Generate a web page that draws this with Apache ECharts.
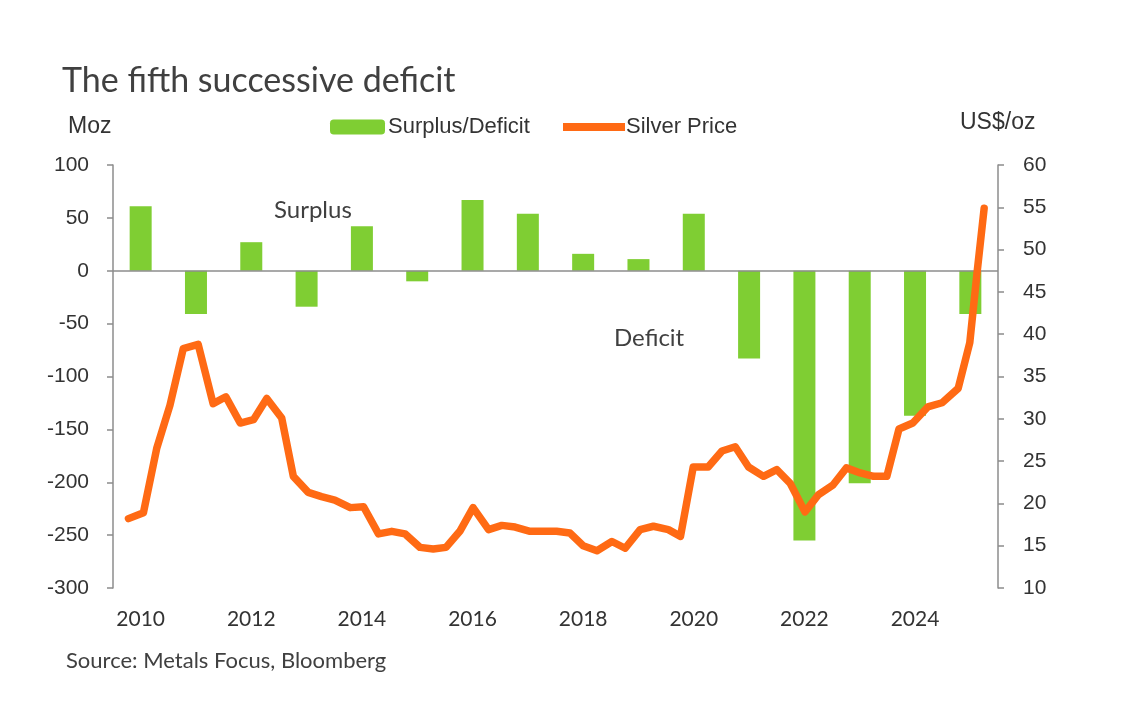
<!DOCTYPE html>
<html>
<head>
<meta charset="utf-8">
<title>The fifth successive deficit</title>
<script src="https://cdn.jsdelivr.net/npm/echarts@6/dist/echarts.min.js"></script>
<style>
  html, body { margin: 0; padding: 0; background: #fff; }
  #chart { width: 1146px; height: 710px; }
</style>
</head>
<body>
<div id="chart"></div>
<script>
// 年度供需缺口（百万盎司）
const years = ['2010', '2011', '2012', '2013', '2014', '2015', '2016', '2017',
               '2018', '2019', '2020', '2021', '2022', '2023', '2024', '2025'];
const balance = [61, -41, 27, -34, 42, -10, 67, 54, 16, 11, 54, -83, -255, -201, -137, -41];

// 银价（美元/盎司），按季度读取
const priceDates = [2009.78, 2010.05, 2010.29, 2010.53, 2010.77, 2011.04, 2011.31, 2011.54,
                    2011.80, 2012.04, 2012.28, 2012.55, 2012.76, 2013.03, 2013.27, 2013.51,
                    2013.79, 2014.03, 2014.30, 2014.54, 2014.78, 2015.05, 2015.29, 2015.52,
                    2015.77, 2016.01, 2016.29, 2016.53, 2016.77, 2017.04, 2017.28, 2017.52,
                    2017.76, 2018.00, 2018.25, 2018.52, 2018.76, 2019.03, 2019.27, 2019.54,
                    2019.76, 2019.99, 2020.26, 2020.51, 2020.75, 2020.99, 2021.26, 2021.50,
                    2021.74, 2022.01, 2022.25, 2022.52, 2022.76, 2023.01, 2023.25, 2023.49,
                    2023.71, 2023.96, 2024.23, 2024.49, 2024.78, 2024.99, 2025.12, 2025.25];
const priceValues = [18.2, 18.9, 26.5, 31.6, 38.3, 38.8, 31.8, 32.6,
                     29.5, 29.9, 32.4, 30.1, 23.2, 21.3, 20.8, 20.4,
                     19.5, 19.6, 16.4, 16.7, 16.4, 14.8, 14.6, 14.8,
                     16.7, 19.5, 16.9, 17.4, 17.2, 16.7, 16.7, 16.7,
                     16.5, 15.0, 14.4, 15.5, 14.7, 16.9, 17.3, 16.9,
                     16.1, 24.3, 24.3, 26.2, 26.7, 24.3, 23.2, 24.0,
                     22.4, 19.0, 21.0, 22.2, 24.2, 23.6, 23.2, 23.2,
                     28.8, 29.5, 31.4, 31.9, 33.6, 39.0, 47.2, 54.9];

const leftTicks = { min: -300, max: 100, interval: 50 };
const rightTicks = { min: 10, max: 60, interval: 5 };

const myChart = echarts.init(document.getElementById('chart'));

const labelFont = 'Liberation Sans, Arial, sans-serif';
const softFont = 'Lato, Open Sans, sans-serif';
const green = '#7fce33';
const orange = '#ff6a14';
const axisGrey = '#8c8c8c';

const legendText = { fontFamily: labelFont, fontSize: 22, color: '#333' };

const option = {
    animation: false,
    backgroundColor: '#fff',
    grid: { left: 113, right: 148, top: 165, bottom: 122 },
    legend: [
        {
            data: ['Surplus/Deficit'],
            left: 325,
            top: 111,
            itemWidth: 55,
            itemHeight: 15,
            textStyle: Object.assign({ padding: [0, 0, 0, -2] }, legendText)
        },
        {
            data: [{ name: 'Silver Price', icon: 'rect', itemStyle: { color: orange } }],
            left: 558,
            top: 111,
            itemWidth: 62,
            itemHeight: 8,
            textStyle: Object.assign({ padding: [0, 0, 0, -4] }, legendText)
        }
    ],
    graphic: [
        { type: 'text', left: 62, top: 64, style: { text: 'The fifth successive deficit', font: '34px ' + softFont, fill: '#404040' } },
        { type: 'text', left: 68, top: 115, style: { text: 'Moz', font: '23px ' + labelFont, fill: '#333' } },
        { type: 'text', left: 960, top: 111, style: { text: 'US$/oz', font: '23px ' + labelFont, fill: '#333' } },
        { type: 'text', left: 274, top: 198, style: { text: 'Surplus', font: '24px ' + softFont, fill: '#404040' } },
        { type: 'text', left: 614, top: 326, style: { text: 'Deficit', font: '24px ' + softFont, fill: '#404040' } },
        { type: 'text', left: 66, top: 650, style: { text: 'Source: Metals Focus, Bloomberg', font: '22px ' + softFont, fill: '#404040' } }
    ],
    xAxis: [
        {
            type: 'category',
            data: years,
            boundaryGap: true,
            axisLine: { show: false },
            axisTick: { show: false },
            axisLabel: { interval: 1, margin: 21, fontFamily: softFont, fontSize: 21, color: '#333' }
        },
        {
            type: 'value',
            min: 2009.5,
            max: 2025.5,
            show: false
        }
    ],
    yAxis: [
        {
            type: 'value',
            min: leftTicks.min,
            max: leftTicks.max,
            interval: leftTicks.interval,
            splitLine: { show: false },
            axisLine: { show: true, lineStyle: { color: axisGrey, width: 1.5 } },
            axisTick: { show: true, length: 6, lineStyle: { color: axisGrey, width: 1.5 } },
            axisLabel: { margin: 24, fontFamily: labelFont, fontSize: 21, color: '#333' }
        },
        {
            type: 'value',
            min: rightTicks.min,
            max: rightTicks.max,
            interval: rightTicks.interval,
            position: 'right',
            splitLine: { show: false },
            axisLine: { show: true, lineStyle: { color: axisGrey, width: 1.5 } },
            axisTick: { show: true, length: 6, lineStyle: { color: axisGrey, width: 1.5 } },
            axisLabel: { margin: 25, fontFamily: labelFont, fontSize: 21, color: '#333' }
        }
    ],
    series: [
        {
            name: 'Surplus/Deficit',
            type: 'bar',
            xAxisIndex: 0,
            yAxisIndex: 0,
            data: balance,
            barWidth: 22,
            itemStyle: { color: green },
            markLine: {
                silent: true,
                symbol: 'none',
                label: { show: false },
                lineStyle: { color: axisGrey, width: 1.5, type: 'solid' },
                data: [{ yAxis: 0 }]
            },
            z: 2
        },
        {
            name: 'Silver Price',
            type: 'line',
            xAxisIndex: 1,
            yAxisIndex: 1,
            data: priceDates.map((d, i) => [d, priceValues[i]]),
            symbol: 'none',
            lineStyle: { color: orange, width: 7.5, cap: 'round', join: 'round' },
            itemStyle: { color: orange },
            z: 5
        }
    ]
};

myChart.setOption(option);
</script>
</body>
</html>
